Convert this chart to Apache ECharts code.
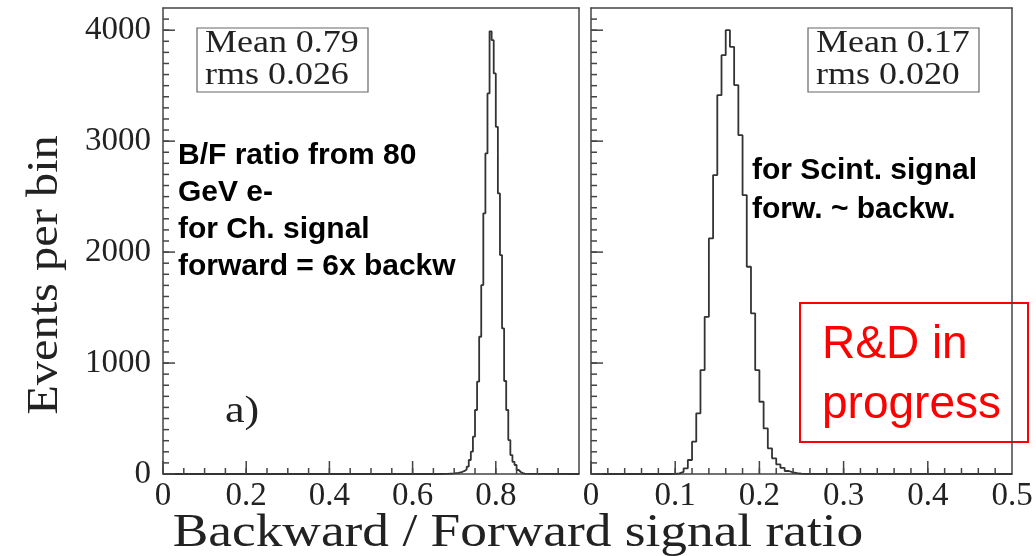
<!DOCTYPE html>
<html>
<head>
<meta charset="utf-8">
<script src="https://cdn.jsdelivr.net/npm/echarts@6/dist/echarts.min.js"></script>
<style>
  html, body { margin: 0; padding: 0; background: #fff; }
  #chart { width: 1036px; height: 556px; }
</style>
</head>
<body>
<div id="chart"></div>
<script>
// Bin width shared by both histograms
const binWidth = 0.005;

// Panel a): Backward/Forward ratio, Cherenkov signal (bin counts from first low edge)
const cherStart = 0.670;
const cherCounts = [1, 1, 2, 3, 4, 5, 8, 10, 14, 20, 28, 40, 66, 126, 201, 336, 577, 832,
  1237, 1703, 2349, 2889, 3430, 3990, 3910, 3610, 3129, 2529, 1973, 1312, 838, 577,
  306, 171, 110, 81, 36, 18, 8, 3];

// Panel b): Backward/Forward ratio, scintillation signal
const scintStart = 0.095;
const scintCounts = [2, 6, 20, 51, 126, 291, 547, 937, 1417, 2123, 2694, 3414, 3775, 4000,
  3850, 3505, 3054, 2514, 1868, 1448, 937, 651, 411, 231, 141, 86, 55, 27, 15, 7, 3, 1];

// Axis ranges and tick spacing
const xRangeA = [0, 1.0], xStepA = 0.2, xMinorStepA = 0.05;
const xRangeB = [0, 0.5], xStepB = 0.1, xMinorStepB = 0.02;
const yRange = [0, 4200], yStep = 1000, yMinorStep = 100;

// Statistics boxes and annotations
const statsA = ['Mean 0.79', 'rms 0.026'];
const statsB = ['Mean 0.17', 'rms 0.020'];
const noteA = ['B/F ratio from 80', 'GeV e-', 'for Ch. signal', 'forward = 6x backw'];
const noteB = ['for Scint. signal', 'forw. ~ backw.'];
const progressNote = ['R&D in', 'progress'];
const panelTag = 'a)';
const yTitle = 'Events per bin';
const xTitle = 'Backward / Forward signal ratio';

// Build a step outline: baseline, one point per bin low edge, back to baseline
function outline(start, counts, range) {
  const pts = [[range[0], 0]];
  counts.forEach((c, i) => pts.push([+(start + i * binWidth).toFixed(4), c]));
  pts.push([+(start + counts.length * binWidth).toFixed(4), 0]);
  pts.push([range[1], 0]);
  return pts;
}

// Tick values from an axis range and spacing (the upper edge itself is left to the frame)
function tickValues(range, step) {
  const out = [];
  const n = Math.round((range[1] - range[0]) / step);
  for (let i = 0; i <= n; i++) {
    const v = +(range[0] + i * step).toFixed(6);
    if (v < range[1] - 1e-9) out.push(v);
  }
  return out;
}

// Tick marks of one panel: [value, kind] with kind 0/1 = x major/minor, 2/3 = y major/minor
function panelTicks(xRange, xStep, xMinorStep) {
  const items = [];
  tickValues(xRange, xStep).forEach(v => items.push([v, 0]));
  tickValues(xRange, xMinorStep).forEach(v => items.push([v, 1]));
  tickValues(yRange, yStep).forEach(v => items.push([v, 2]));
  tickValues(yRange, yMinorStep).forEach(v => items.push([v, 3]));
  return items;
}

const serif = 'Liberation Serif';
const sans = 'Liberation Sans';
const frameColor = '#444';
const inkColor = '#222';
const tickLength = [13, 6, 12, 6];

// Tick labels as plain numbers; the label at the axis end can be dropped
function labelFormatter(hideAt) {
  return v => (hideAt !== null && Math.abs(v - hideAt) < 1e-9) ? '' : String(+v.toFixed(3));
}

function xAxisCfg(gridIndex, range, step, hideAt) {
  return {
    type: 'value', gridIndex: gridIndex, min: range[0], max: range[1], interval: step,
    axisLine: { show: true, onZero: false, lineStyle: { color: frameColor, width: 1.5 } },
    axisTick: { show: false },
    splitLine: { show: false },
    axisLabel: { fontFamily: serif, fontSize: 33, color: inkColor, margin: 6, formatter: labelFormatter(hideAt) }
  };
}

// Top edge of the frame: a bare axis line
function xFrameCfg(gridIndex, range) {
  return {
    type: 'value', gridIndex: gridIndex, position: 'top', min: range[0], max: range[1],
    axisLine: { show: true, onZero: false, lineStyle: { color: frameColor, width: 1.5 } },
    axisTick: { show: false }, splitLine: { show: false }, axisLabel: { show: false }
  };
}

function yAxisCfg(gridIndex, labels) {
  return {
    type: 'value', gridIndex: gridIndex, position: 'left', min: yRange[0], max: yRange[1], interval: yStep,
    axisLine: { show: true, lineStyle: { color: frameColor, width: 1.5 } },
    axisTick: { show: false },
    splitLine: { show: false },
    axisLabel: { show: labels, fontFamily: serif, fontSize: 33, color: inkColor, margin: 12, formatter: labelFormatter(yRange[1]) }
  };
}

// Right edge of the frame
function yFrameCfg(gridIndex) {
  return {
    type: 'value', gridIndex: gridIndex, position: 'right', min: yRange[0], max: yRange[1],
    axisLine: { show: true, onZero: false, lineStyle: { color: frameColor, width: 1.5 } },
    axisTick: { show: false }, splitLine: { show: false }, axisLabel: { show: false }
  };
}

// Inward tick marks, placed through the panel's own coordinate system
function tickSeries(xIndex, yIndex, xRange, xStep, xMinorStep) {
  return {
    type: 'custom', xAxisIndex: xIndex, yAxisIndex: yIndex, silent: true, z: 4,
    data: panelTicks(xRange, xStep, xMinorStep),
    renderItem: function (params, api) {
      const v = api.value(0);
      const kind = api.value(1);
      const len = tickLength[kind];
      let a, b;
      if (kind < 2) {
        a = api.coord([v, yRange[0]]);
        b = [a[0], a[1] - len];
      } else {
        a = api.coord([xRange[0], v]);
        b = [a[0] + len, a[1]];
      }
      return {
        type: 'line',
        shape: { x1: a[0], y1: a[1], x2: b[0], y2: b[1] },
        style: { stroke: frameColor, lineWidth: 1.5 }
      };
    }
  };
}

function statBox(x, y, lines) {
  return {
    type: 'group', x: x, y: y,
    children: [
      { type: 'rect', shape: { x: 0, y: 0, width: 171, height: 64 },
        style: { fill: '#fff', stroke: '#666', lineWidth: 1.2 } },
      { type: 'text', x: 8, y: 16, scaleX: 1.16,
        style: { text: lines[0], font: '31px "' + serif + '"', fill: inkColor, verticalAlign: 'middle' } },
      { type: 'text', x: 8, y: 48, scaleX: 1.16,
        style: { text: lines[1], font: '31px "' + serif + '"', fill: inkColor, verticalAlign: 'middle' } }
    ]
  };
}

const chart = echarts.init(document.getElementById('chart'), null, { renderer: 'canvas' });

chart.setOption({
  animation: false,
  backgroundColor: '#fff',
  grid: [
    { left: 163, top: 8, width: 416, height: 466 },
    { left: 591, top: 8, width: 421, height: 466 }
  ],
  xAxis: [
    xAxisCfg(0, xRangeA, xStepA, xRangeA[1]),
    xAxisCfg(1, xRangeB, xStepB, null),
    xFrameCfg(0, xRangeA),
    xFrameCfg(1, xRangeB)
  ],
  yAxis: [
    yAxisCfg(0, true),
    yAxisCfg(1, false),
    yFrameCfg(0),
    yFrameCfg(1)
  ],
  series: [
    { type: 'line', xAxisIndex: 0, yAxisIndex: 0, step: 'end', showSymbol: false,
      lineStyle: { color: '#333', width: 1.8 }, data: outline(cherStart, cherCounts, xRangeA) },
    { type: 'line', xAxisIndex: 1, yAxisIndex: 1, step: 'end', showSymbol: false,
      lineStyle: { color: '#333', width: 1.8 }, data: outline(scintStart, scintCounts, xRangeB) },
    tickSeries(0, 0, xRangeA, xStepA, xMinorStepA),
    tickSeries(1, 1, xRangeB, xStepB, xMinorStepB)
  ],
  graphic: [
    statBox(197, 28, statsA),
    statBox(808, 28, statsB),
    { type: 'text', x: 178, y: 137,
      style: { text: noteA.join('\n'), font: 'bold 30px "' + sans + '"', fill: '#000', lineHeight: 37, verticalAlign: 'top' } },
    { type: 'text', x: 752, y: 151,
      style: { text: noteB.join('\n'), font: 'bold 30px "' + sans + '"', fill: '#000', lineHeight: 39, verticalAlign: 'top' } },
    { type: 'text', x: 225, y: 412, scaleX: 1.16,
      style: { text: panelTag, font: '38px "' + serif + '"', fill: inkColor, verticalAlign: 'middle' } },
    { type: 'rect', shape: { x: 800, y: 303, width: 228, height: 139 },
      style: { fill: '#fff', stroke: '#ff0000', lineWidth: 2 } },
    { type: 'text', x: 822, y: 315,
      style: { text: progressNote.join('\n'), font: '46px "' + sans + '"', fill: '#ff0000', lineHeight: 60, verticalAlign: 'top' } },
    { type: 'text', x: 45, y: 275, rotation: Math.PI / 2, scaleX: 1.1,
      style: { text: yTitle, font: '44px "' + serif + '"', fill: inkColor, align: 'center', verticalAlign: 'middle' } },
    { type: 'text', x: 518, y: 534, scaleX: 1.16,
      style: { text: xTitle, font: '46px "' + serif + '"', fill: inkColor, align: 'center', verticalAlign: 'middle' } }
  ]
});
</script>
</body>
</html>
